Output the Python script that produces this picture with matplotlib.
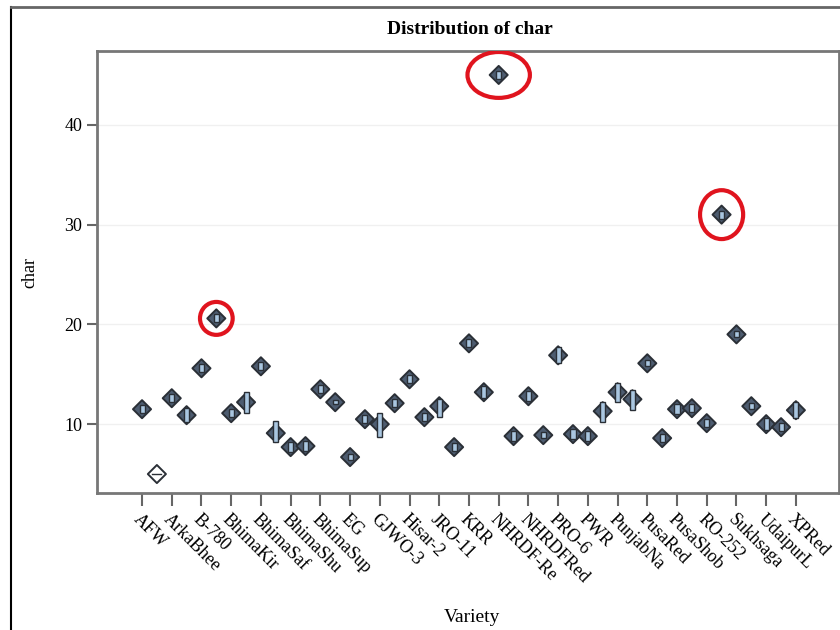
import matplotlib
matplotlib.use("Agg")
from matplotlib import pyplot as plt
from matplotlib.patches import Ellipse, Rectangle
from matplotlib.lines import Line2D

# every other variety carries a label on the axis
labels = ["AFW", "ArkaBhee", "B-780", "BhimaKir", "BhimaSaf", "BhimaShu", "BhimaSup",
          "EG", "GJWO-3", "Hisar-2", "JRO-11", "KRR", "NHRDF-Re", "NHRDFRed", "PRO-6",
          "PWR", "PunjabNa", "PusaRed", "PusaShob", "RO-252", "Sukhsaga", "UdaipurL", "XPRed"]

means = [11.5, 5.0, 12.6, 10.9, 15.6, 20.6, 11.1, 12.2, 15.8, 9.1, 7.7, 7.8, 13.5, 12.2, 6.7,
         10.5, 10.0, 12.1, 14.5, 10.7, 11.8, 7.7, 18.1, 13.2, 45.0, 8.8, 12.8, 8.9, 16.9, 9.0,
         8.8, 11.3, 13.2, 12.5, 16.1, 8.6, 11.5, 11.6, 10.1, 31.0, 19.0, 11.8, 10.0, 9.7, 11.4]
box_lo = [11.1, 5.0, 12.2, 10.2, 15.2, 20.2, 10.7, 11.1, 15.4, 8.2, 7.2, 7.3, 13.1, 12.0, 6.4,
          10.1, 8.7, 11.7, 14.1, 10.3, 10.7, 7.3, 17.7, 12.6, 44.6, 8.3, 12.3, 8.6, 16.1, 8.5,
          8.3, 10.2, 12.2, 11.4, 15.8, 8.2, 11.0, 11.2, 9.7, 30.6, 18.7, 11.5, 9.4, 9.3, 10.6]
box_hi = [11.9, 5.0, 13.0, 11.6, 16.0, 21.0, 11.5, 13.2, 16.2, 10.3, 8.2, 8.3, 13.9, 12.4, 7.0,
          10.9, 11.1, 12.5, 14.9, 11.1, 12.5, 8.1, 18.5, 13.8, 45.4, 9.3, 13.3, 9.2, 17.7, 9.5,
          9.3, 12.2, 14.1, 13.4, 16.4, 9.0, 12.0, 12.0, 10.5, 31.4, 19.3, 12.1, 10.6, 10.1, 12.2]

# circled outliers: (index, width in categories, height in data units)
circled = [(5, 2.2, 3.3), (24, 4.2, 4.6), (39, 2.9, 4.9)]

plt.rcParams["font.family"] = ["Liberation Serif", "DejaVu Serif"]

fig = plt.figure(figsize=(8.4, 6.3), dpi=100)
ax = fig.add_axes([97 / 840, 137 / 630, 742 / 840, 442 / 630])

x = list(range(len(means)))
face = ["white" if lo == hi else "#4d5c70" for lo, hi in zip(box_lo, box_hi)]

ax.scatter(x, means, marker="D", s=85, c=face, edgecolors="#2a2f36", linewidths=1.4, zorder=3)
for i in x:
    h = box_hi[i] - box_lo[i]
    if h > 0:
        ax.add_patch(Rectangle((i - 0.17, box_lo[i]), 0.34, h, facecolor="#a9c6e0",
                               edgecolor="#2a2f36", linewidth=1.0, zorder=4))
    else:
        ax.plot([i - 0.3, i + 0.3], [box_lo[i]] * 2, color="#2a2f36", lw=1.0, zorder=4)

for i, w, h in circled:
    ax.add_patch(Ellipse((i, means[i]), w, h, fill=False, edgecolor="#e0141e", linewidth=3,
                         zorder=5))

ax.set_xlim(-3.03, 46.9)
ax.set_ylim(3.1, 47.4)
ax.set_xticks(x[::2])
ax.set_xticklabels(labels, rotation=-45, ha="left", va="top", rotation_mode="anchor",
                   fontsize=13)
ax.set_yticks([10, 20, 30, 40])
ax.tick_params(axis="y", labelsize=13, length=7, width=1.5, color="#666666")
ax.tick_params(axis="x", length=9, width=1.5, color="#666666", pad=4)
ax.yaxis.grid(True, color="#f0f0f0", linewidth=1)
ax.set_axisbelow(True)
for s in ax.spines.values():
    s.set_color("#777777")
    s.set_linewidth(2)

fig.text(470 / 840, 1 - 30 / 630, "Distribution of char", ha="center", va="center",
         fontsize=14, fontweight="bold")
fig.text(30 / 840, 1 - 273 / 630, "char", ha="center", va="center", rotation=90, fontsize=13)
fig.text(472 / 840, 1 - 618 / 630, "Variety", ha="center", va="center", fontsize=14)

# outer frame of the picture
fig.add_artist(Line2D([11 / 840, 11 / 840], [0, 1 - 7 / 630], color="black", lw=1.5))
fig.add_artist(Line2D([11 / 840, 1], [1 - 7 / 630, 1 - 7 / 630], color="#666666", lw=2))

fig.savefig("out.png", dpi=100)
